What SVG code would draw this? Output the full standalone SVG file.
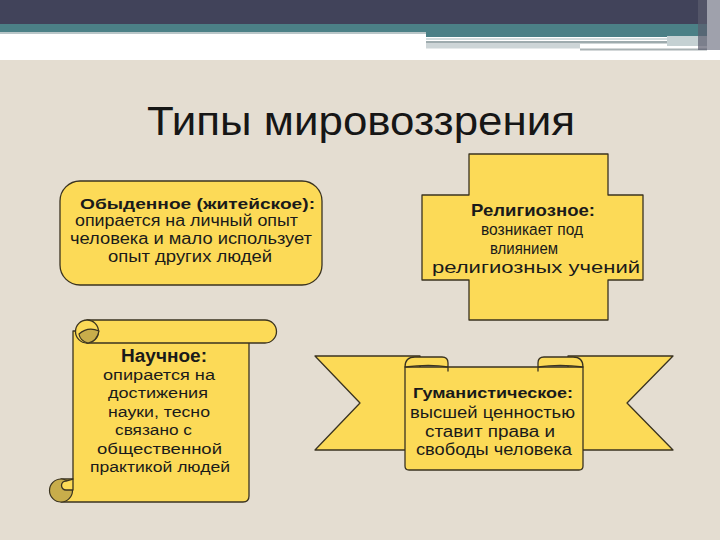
<svg xmlns="http://www.w3.org/2000/svg" width="720" height="540" viewBox="0 0 720 540">
<style>
.shape{fill:#fcda57;stroke:#3a3320;stroke-width:1.3;stroke-linejoin:round}
.dark{fill:#c8ad4b;stroke:#3a3320;stroke-width:1.2}
.t{font-family:"Liberation Sans",Arial,sans-serif;font-size:16px;fill:#1a1a1a;text-anchor:start}
.b{font-weight:bold}
.title{font-family:"Liberation Sans",Arial,sans-serif;font-size:40px;fill:#161616}
</style>
<rect width="720" height="540" fill="#e4ddd1"/>
<g id="header">
<rect x="0" y="0" width="720" height="24" fill="#41435a"/>
<rect x="0" y="24" width="720" height="9" fill="#4b8086"/>
<rect x="426" y="32" width="290" height="5" fill="#4b8086"/>
<rect x="0" y="33" width="426" height="27" fill="#ffffff"/>
<rect x="0" y="32" width="426" height="2" fill="#b9c6c8"/>
<rect x="426" y="37" width="294" height="23" fill="#ffffff"/>
<rect x="426" y="38" width="241" height="2" fill="#d2dcdd"/>
<rect x="426" y="41" width="241" height="2.5" fill="#9eabae"/>
<rect x="426" y="43.5" width="154" height="5" fill="#cdd5d7"/>
<rect x="580" y="48.5" width="127" height="2" fill="#a9b2b4"/>
<rect x="667" y="36" width="40" height="10" fill="#c5d1d3"/>
<rect x="698" y="0" width="9" height="50" fill="#5b5c6e" opacity="0.7"/>
<rect x="707" y="0" width="13" height="50" fill="#9fa1ac"/>
</g>
<g id="title">
<text class="title" x="147" y="135" textLength="428" lengthAdjust="spacingAndGlyphs">Типы мировоззрения</text>
</g>
<g id="connectors"/>
<g id="node-everyday">
<rect class="shape" x="60" y="181" width="262" height="104" rx="20" ry="20"/>
<text class="t b" x="80" y="209" style="font-size:15.5px" textLength="235" lengthAdjust="spacingAndGlyphs">Обыденное (житейское):</text>
<text class="t" x="75" y="226" textLength="223" lengthAdjust="spacingAndGlyphs">опирается на личный опыт</text>
<text class="t" x="70" y="244" textLength="242" lengthAdjust="spacingAndGlyphs">человека и мало использует</text>
<text class="t" x="108" y="262" textLength="164" lengthAdjust="spacingAndGlyphs">опыт других людей</text>
</g>
<g id="node-religious">
<path class="shape" d="M469,154 L608,154 L608,195 L643,195 L643,280 L608,280 L608,320 L469,320 L469,280 L422,280 L422,195 L469,195 Z"/>
<text class="t b" x="471" y="216" style="font-size:17px" textLength="124" lengthAdjust="spacingAndGlyphs">Религиозное:</text>
<text class="t" x="481" y="235" style="font-size:16px" textLength="102" lengthAdjust="spacingAndGlyphs">возникает под</text>
<text class="t" x="490" y="254" style="font-size:16px" textLength="68" lengthAdjust="spacingAndGlyphs">влиянием</text>
<text class="t" x="432" y="273" style="font-size:16px" textLength="208" lengthAdjust="spacingAndGlyphs">религиозных учений</text>
</g>
<g id="node-scientific">
<path class="shape" d="M73,331 L249,331 L249,496 Q249,502 243,502 L61,502 L61,479 L73,479 Z"/>
<path class="shape" d="M87,320 L265,320 A11.5,11.5 0 0 1 265,343 L87,343 Z"/>
<circle class="shape" cx="87" cy="331.5" r="11.5"/>
<path class="dark" d="M79,334 Q88,326 99,331 Q97,341 88,343 Q80,341 79,334 Z"/>
<circle class="dark" cx="61" cy="490.5" r="11.5"/>
<path class="shape" d="M73,479 L73,490 L66,490 A4.5,4.5 0 0 1 66,481 Z"/>
<text class="t b" x="121" y="362" style="font-size:17.5px" textLength="86" lengthAdjust="spacingAndGlyphs">Научное:</text>
<text class="t" x="103" y="380" style="font-size:15.5px" textLength="112" lengthAdjust="spacingAndGlyphs">опирается на</text>
<text class="t" x="108" y="398" style="font-size:15.5px" textLength="100" lengthAdjust="spacingAndGlyphs">достижения</text>
<text class="t" x="108" y="417" style="font-size:15.5px" textLength="102" lengthAdjust="spacingAndGlyphs">науки, тесно</text>
<text class="t" x="115" y="435" style="font-size:15.5px" textLength="77" lengthAdjust="spacingAndGlyphs">связано с</text>
<text class="t" x="97" y="454" style="font-size:15.5px" textLength="125" lengthAdjust="spacingAndGlyphs">общественной</text>
<text class="t" x="90" y="472" style="font-size:15.5px" textLength="140" lengthAdjust="spacingAndGlyphs">практикой людей</text>
</g>
<g id="node-humanistic">
<path class="shape" d="M315,356 L420,356 L420,450 L315,450 L360,403 Z"/>
<path class="shape" d="M673,356 L568,356 L568,450 L673,450 L627,403 Z"/>
<path class="shape" d="M405,367 L583,367 L583,466 Q583,470 579,470 L409,470 Q405,470 405,466 Z"/>
<path class="shape" d="M405,367 Q405,357 415,357 L442,357 Q448,357 448,363 L448,371 L448,367 Q430,364 405,367 Z"/>
<path class="shape" d="M583,367 Q583,357 573,357 L544,357 Q538,357 538,363 L538,371 L538,367 Q560,364 583,367 Z"/>
<text class="t b" x="413" y="398" style="font-size:14.5px" textLength="160" lengthAdjust="spacingAndGlyphs">Гуманистическое:</text>
<text class="t" x="410" y="418" textLength="165" lengthAdjust="spacingAndGlyphs">высшей ценностью</text>
<text class="t" x="425" y="437" textLength="130" lengthAdjust="spacingAndGlyphs">ставит права и</text>
<text class="t" x="416" y="455" textLength="156" lengthAdjust="spacingAndGlyphs">свободы человека</text>
</g>
</svg>
